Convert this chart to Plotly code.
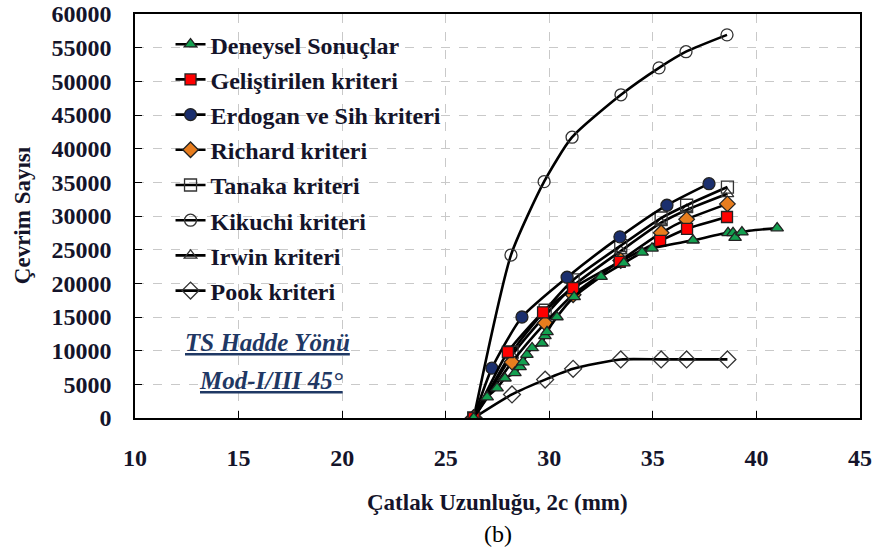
import plotly.graph_objects as go

# ---------------- data ----------------
x_common = [26.35, 28.2, 29.8, 31.15, 33.45, 35.4, 36.63, 38.6]

exp_x = [26.35, 27.0, 27.48, 27.86, 28.34, 28.59, 28.73, 28.92, 29.17, 29.65, 29.79, 29.89,
         30.37, 31.2, 32.5, 33.6, 34.48, 34.96, 36.94, 38.63, 38.87, 38.97, 39.3, 41.0]
exp_y = [0, 3100, 4450, 5900, 6700, 7600, 8300, 9400, 10400, 11100, 12200, 12800,
         15000, 18000, 21000, 23000, 24600, 25200, 26400, 27500, 27500, 26800, 27600, 28200]

gel_x = [26.35, 28.0, 29.7, 31.15, 33.4, 35.35, 36.65, 38.58]
gel_y = [0, 9800, 15700, 19300, 23200, 26300, 28100, 29850]

erd_x = [26.35, 27.23, 28.68, 30.86, 33.41, 35.68, 37.71]
erd_y = [0, 7400, 15000, 20900, 26900, 31600, 34800]

ric_y = [0, 8300, 14100, 18300, 23400, 27500, 29500, 31800]
tan_y = [0, 9800, 16000, 20500, 25600, 29700, 31600, 34300]
kik_x = [26.35, 28.15, 29.75, 31.1, 33.46, 35.3, 36.6, 38.58]
kik_y = [0, 24200, 35100, 41700, 48000, 52000, 54400, 56900]
irw_y = [0, 9300, 15200, 19600, 24800, 29000, 30900, 33300]
pok_y = [0, 3500, 5700, 7300, 8700, 8700, 8700, 8700]

x_ticks = [10, 15, 20, 25, 30, 35, 40, 45]
y_ticks = list(range(0, 60001, 5000))

FONT = "Liberation Serif"
TXT = "#14142a"

fig = go.Figure()

def add(name, x, y, symbol, fill, rank, size=10):
    fig.add_trace(go.Scatter(
        x=x, y=y, name=name, mode="lines+markers",
        line=dict(color="black", width=2.6, shape="spline", smoothing=0.6),
        marker=dict(symbol=symbol, size=size, color=fill,
                    line=dict(color="#222222", width=1.3)),
        legendrank=rank, legendgroup=name,
    ))

add("Kikuchi kriteri", kik_x, kik_y, "circle-open", "#333333", 6, 12)
add("Pook kriteri", x_common, pok_y, "diamond-open", "#333333", 8, 13)
add("Irwin kriteri", x_common, irw_y, "triangle-up-open", "#333333", 7, 11)
add("Tanaka kriteri", x_common, tan_y, "square-open", "#333333", 5, 12)
add("Erdogan ve Sih kriteri", erd_x, erd_y, "circle", "#1b2f6e", 3, 12)
add("Richard kriteri", x_common, ric_y, "diamond", "#e87d1e", 4, 12)
add("Geliştirilen kriteri", gel_x, gel_y, "square", "#ff0000", 2, 11)
add("Deneysel Sonuçlar", exp_x, exp_y, "triangle-up", "#13a050", 1, 11)

axis_common = dict(
    showline=True, linecolor="black", linewidth=1.5, mirror=True,
    ticks="inside", ticklen=7, tickcolor="black", tickwidth=1.2,
    showgrid=True, gridcolor="#c9c9c9", griddash="dash", gridwidth=1,
    zeroline=False, automargin=False, ticklabeloverflow="allow",
    tickfont=dict(family=FONT, size=24, color=TXT, weight="bold"),
)

fig.update_xaxes(range=[10, 45], tickvals=x_ticks, ticklabelstandoff=17, **axis_common)
fig.update_yaxes(range=[0, 60000], tickvals=y_ticks, tickformat="d",
                 ticklabelstandoff=17, **axis_common)

fig.update_layout(
    width=875, height=556,
    margin=dict(l=135, r=15, t=14, b=138),
    plot_bgcolor="white", paper_bgcolor="white",
    showlegend=True,
    legend=dict(
        x=0.049, y=0.98, xanchor="left", yanchor="top",
        bgcolor="rgba(0,0,0,0)", borderwidth=0,
        traceorder="grouped", tracegroupgap=1,
        font=dict(family=FONT, size=24, color=TXT, weight="bold"),
        itemwidth=30,
    ),
    annotations=[
        dict(text="<i><u>TS Hadde Yönü</u></i>", x=16.42, y=11140, xref="x", yref="y",
             showarrow=False, font=dict(family=FONT, size=25, color="#1f3864", weight="bold")),
        dict(text="<i><u>Mod-I/III 45°</u></i>", x=16.57, y=5640, xref="x", yref="y",
             showarrow=False, font=dict(family=FONT, size=25, color="#1f3864", weight="bold")),
        dict(text="Çatlak Uzunluğu, 2c (mm)", x=0.5, y=(418 - 502) / 404, xref="paper", yref="paper",
             showarrow=False, yanchor="middle",
             font=dict(family=FONT, size=23, color=TXT, weight="bold")),
        dict(text="Çevrim Sayısı", x=(22 - 135) / 725, y=0.502, xref="paper", yref="paper",
             showarrow=False, textangle=-90, xanchor="center", yanchor="middle",
             font=dict(family=FONT, size=23, color=TXT, weight="bold")),
        dict(text="(b)", x=0.5, y=(418 - 534) / 404, xref="paper", yref="paper",
             showarrow=False, yanchor="middle",
             font=dict(family=FONT, size=24, color="black")),
    ],
)

fig.write_html("out.html", config={"displayModeBar": False},
               post_script="document.body.style.margin='0';")
